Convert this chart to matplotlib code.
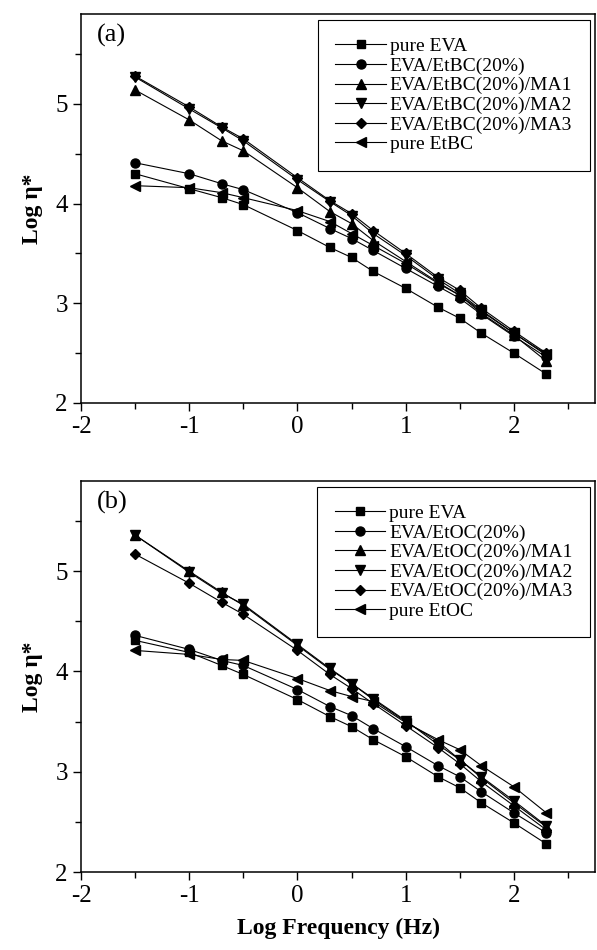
from matplotlib import rcParams
from matplotlib import pyplot as plt
from matplotlib.ticker import MultipleLocator

log_freq = [-1.5, -1, -0.7, -0.5, 0, 0.3, 0.5, 0.7, 1, 1.3, 1.5, 1.7, 2, 2.3]

# panel (a) - EtBC
eva_a = [4.30, 4.15, 4.06, 3.99, 3.73, 3.56, 3.46, 3.32, 3.15, 2.96, 2.85, 2.70, 2.50, 2.29]
etbc20 = [4.41, 4.30, 4.20, 4.14, 3.91, 3.75, 3.65, 3.53, 3.35, 3.17, 3.05, 2.89, 2.67, 2.46]
etbc_ma1 = [5.14, 4.84, 4.63, 4.53, 4.16, 3.92, 3.80, 3.63, 3.42, 3.21, 3.08, 2.90, 2.68, 2.42]
etbc_ma2 = [5.27, 4.95, 4.76, 4.63, 4.24, 4.02, 3.88, 3.70, 3.48, 3.24, 3.10, 2.93, 2.70, 2.48]
etbc_ma3 = [5.28, 4.97, 4.77, 4.65, 4.26, 4.03, 3.90, 3.73, 3.50, 3.26, 3.13, 2.95, 2.72, 2.50]
pure_etbc = [4.18, 4.16, 4.11, 4.06, 3.93, 3.82, 3.70, 3.58, 3.40, 3.20, 3.08, 2.92, 2.70, 2.49]
labels_a = ['pure EVA', 'EVA/EtBC(20%)', 'EVA/EtBC(20%)/MA1',
            'EVA/EtBC(20%)/MA2', 'EVA/EtBC(20%)/MA3', 'pure EtBC']

# panel (b) - EtOC
eva_b = [4.31, 4.19, 4.06, 3.97, 3.72, 3.55, 3.45, 3.32, 3.15, 2.95, 2.84, 2.69, 2.49, 2.28]
etoc20 = [4.36, 4.22, 4.11, 4.06, 3.82, 3.65, 3.56, 3.43, 3.25, 3.06, 2.95, 2.80, 2.59, 2.39]
etoc_ma1 = [5.36, 5.00, 4.79, 4.66, 4.26, 4.02, 3.88, 3.72, 3.50, 3.30, 3.12, 2.94, 2.69, 2.45]
etoc_ma2 = [5.36, 4.99, 4.78, 4.67, 4.27, 4.03, 3.88, 3.73, 3.51, 3.27, 3.12, 2.95, 2.71, 2.46]
etoc_ma3 = [5.17, 4.88, 4.69, 4.57, 4.21, 3.97, 3.83, 3.68, 3.46, 3.24, 3.08, 2.90, 2.66, 2.42]
pure_etoc = [4.21, 4.17, 4.12, 4.11, 3.93, 3.81, 3.75, 3.70, 3.49, 3.32, 3.22, 3.06, 2.85, 2.59]
labels_b = ['pure EVA', 'EVA/EtOC(20%)', 'EVA/EtOC(20%)/MA1',
            'EVA/EtOC(20%)/MA2', 'EVA/EtOC(20%)/MA3', 'pure EtOC']

markers = ['s', 'o', '^', 'v', 'D', '<']
marker_sizes = [5.5, 6.5, 7, 7, 5.5, 7]

rcParams['font.family'] = 'Liberation Serif'
rcParams['axes.unicode_minus'] = False

fig = plt.figure(figsize=(5.97, 9.5), dpi=100)
ax_a = fig.add_axes([0.1357, 0.5758, 0.8610, 0.4092])
ax_b = fig.add_axes([0.1357, 0.0821, 0.8610, 0.4116])

panels = [
    (ax_a, [eva_a, etbc20, etbc_ma1, etbc_ma2, etbc_ma3, pure_etbc], labels_a, '(a)'),
    (ax_b, [eva_b, etoc20, etoc_ma1, etoc_ma2, etoc_ma3, pure_etoc], labels_b, '(b)'),
]

for ax, series, labels, tag in panels:
    for vals, lab, mk, ms in zip(series, labels, markers, marker_sizes):
        ax.plot(log_freq, vals, marker=mk, markersize=ms, color='black',
                linewidth=0.8, label=lab)
    ax.set_xlim(-2, 2.75)
    ax.set_ylim(2, 5.9)
    ax.xaxis.set_major_locator(MultipleLocator(1))
    ax.xaxis.set_minor_locator(MultipleLocator(0.5))
    ax.yaxis.set_major_locator(MultipleLocator(1))
    ax.yaxis.set_minor_locator(MultipleLocator(0.5))
    ax.tick_params(which='both', direction='out', width=1, labelsize=18,
                   top=False, right=False)
    ax.tick_params(which='major', length=6)
    ax.tick_params(which='minor', length=4)
    for sp in ax.spines.values():
        sp.set_linewidth(1.1)
    ax.set_ylabel('Log η*', fontsize=17, fontweight='bold', labelpad=9)
    ax.text(0.03, 0.975, tag, transform=ax.transAxes, fontsize=19,
            ha='left', va='top')
    leg = ax.legend(loc='upper right', bbox_to_anchor=(0.99, 0.985),
                    fontsize=14, frameon=True, fancybox=False,
                    edgecolor='black', framealpha=1, handlelength=2.6,
                    labelspacing=0.1, borderpad=0.9, handletextpad=0.2,
                    borderaxespad=0)
    leg.get_frame().set_linewidth(0.8)

ax_b.set_xlabel('Log Frequency (Hz)', fontsize=17, fontweight='bold', labelpad=8)

plt.savefig('out.png', dpi=100)
